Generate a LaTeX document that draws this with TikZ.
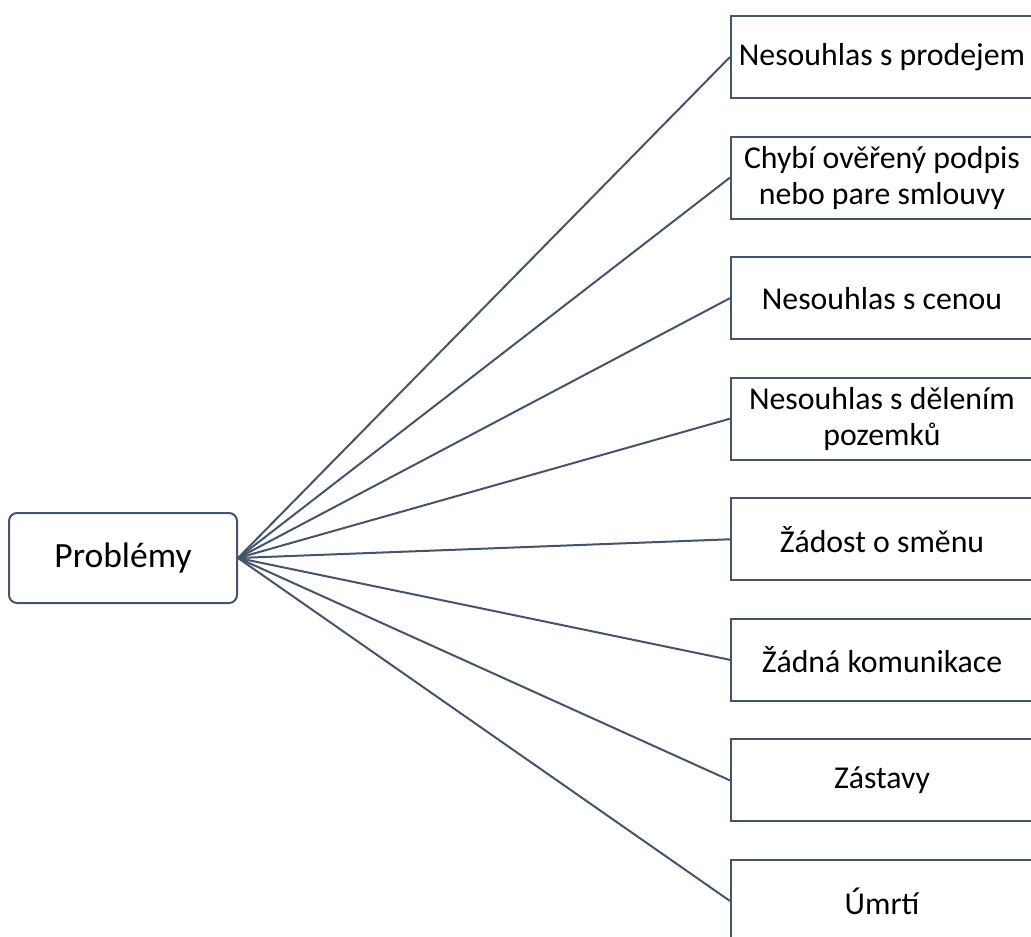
\documentclass[tikz,border=0pt]{standalone}
\usepackage{fontspec}
\setmainfont{Carlito}
\definecolor{lineC}{HTML}{44546A}
\tikzset{
  problem/.style={draw=lineC, line width=2pt, rounded corners=8pt, minimum width=228pt, minimum height=90pt, inner sep=0pt, font=\fontsize{35.5}{42}\selectfont},
  item/.style={draw=lineC, line width=2pt, minimum width=302pt, minimum height=82pt, inner sep=0pt, align=center, font=\fontsize{31.8}{36}\selectfont},
  link/.style={draw=lineC, line width=2pt}
}
\begin{document}
\begin{tikzpicture}[x=1pt,y=-1pt]
\useasboundingbox (0,0) rectangle (1031,937);
\clip (0,0) rectangle (1031,937);
\node[problem] (p) at (123,558) {Problémy};
\node[item] (b1) at (882,57) {Nesouhlas s prodejem};
\node[item] (b2) at (882,177.57) {Chybí ověřený podpis\\nebo pare smlouvy};
\node[item] (b3) at (882,298.14) {Nesouhlas s cenou};
\node[item] (b4) at (882,418.71) {Nesouhlas s dělením\\pozemků};
\node[item] (b5) at (882,539.28) {Žádost o směnu};
\node[item] (b6) at (882,659.85) {Žádná komunikace};
\node[item] (b7) at (882,780.42) {Zástavy};
\node[item] (b8) at (882,901) {Úmrtí};
\foreach \b in {b1,b2,b3,b4,b5,b6,b7,b8}{
  \draw[link] (p.east) -- (\b.west);
}
\end{tikzpicture}
\end{document}
